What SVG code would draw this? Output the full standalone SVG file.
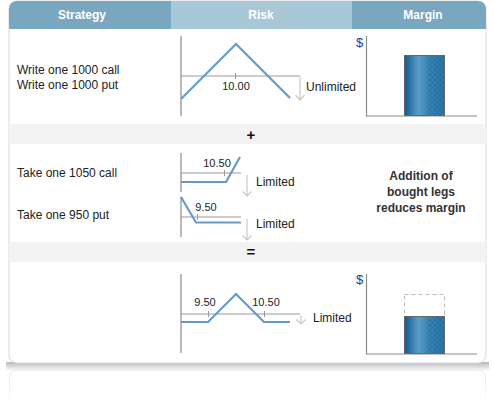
<svg xmlns="http://www.w3.org/2000/svg" width="494" height="403" viewBox="0 0 494 403">
<style>
.t{font-family:"Liberation Sans",Arial,sans-serif;font-size:12px;fill:#222}
.h{font-family:"Liberation Sans",Arial,sans-serif;font-size:12px;font-weight:bold;fill:#fff}
.b{font-family:"Liberation Sans",Arial,sans-serif;font-size:12px;font-weight:bold;fill:#333}
.op{font-family:"Liberation Sans",Arial,sans-serif;font-size:15px;font-weight:bold;fill:#111}
.s{font-family:"Liberation Sans",Arial,sans-serif;font-size:11px;fill:#222}
.d{font-family:"Liberation Sans",Arial,sans-serif;font-size:13px;fill:#1a3c9a}
.ax{stroke:#8a8a8a;stroke-width:1.2;fill:none}
.ref{stroke:#999;stroke-width:1;fill:none}
.pl{stroke:#6699cc;stroke-width:2.2;fill:none;stroke-linejoin:miter}
.ar{stroke:#c8c8c8;stroke-width:1.2;fill:none}
.bar{fill:url(#bg);stroke:#666;stroke-width:1}
</style>
<defs>
<linearGradient id="bg" x1="0" x2="1" y1="0" y2="0">
<stop offset="0" stop-color="#0e5c8c"/>
<stop offset="0.35" stop-color="#5b9dc8"/>
<stop offset="0.6" stop-color="#3884b6"/>
<stop offset="1" stop-color="#2a76a6"/>
</linearGradient>
<pattern id="hatch" width="5" height="5" patternUnits="userSpaceOnUse">
<path d="M0 0L5 5M5 0L0 5" stroke="#1b5a82" stroke-width="0.8" opacity="0.55"/>
</pattern>
<linearGradient id="hm" x1="0" x2="1" y1="0" y2="0">
<stop offset="0" stop-color="#fff" stop-opacity="0"/>
<stop offset="0.35" stop-color="#fff" stop-opacity="1"/>
<stop offset="1" stop-color="#fff" stop-opacity="1"/>
</linearGradient>
<mask id="m1" maskContentUnits="objectBoundingBox"><rect width="1" height="1" fill="url(#hm)"/></mask>
<linearGradient id="sh" x1="0" x2="0" y1="0" y2="1">
<stop offset="0" stop-color="#999" stop-opacity="0.7"/>
<stop offset="1" stop-color="#999" stop-opacity="0"/>
</linearGradient>
<linearGradient id="rf" x1="0" x2="0" y1="0" y2="1">
<stop offset="0" stop-color="#e4e4e4" stop-opacity="1"/>
<stop offset="1" stop-color="#e4e4e4" stop-opacity="0"/>
</linearGradient>
<clipPath id="pc"><rect x="9" y="1" width="477" height="362" rx="8"/></clipPath>
</defs>
<rect width="494" height="403" fill="#fff"/>
<rect x="6" y="362" width="483" height="9" fill="url(#sh)"/>
<path d="M9.5 402V378Q9.5 370 17 370H478Q485.5 370 485.5 378V402" fill="none" stroke="url(#rf)" stroke-width="1"/>
<g id="panel">
<rect x="9" y="1" width="477" height="362" rx="8" fill="#fff" stroke="#d8d8d8" stroke-width="1"/>
<g clip-path="url(#pc)">
<rect x="9" y="1" width="162" height="28" fill="#78a7bf"/>
<rect x="171" y="1" width="181" height="28" fill="#a9c8d7"/>
<rect x="352" y="1" width="135" height="28" fill="#78a7bf"/>
<rect x="9" y="124" width="477" height="20" fill="#f3f3f3"/>
<rect x="9" y="242" width="477" height="20" fill="#f3f3f3"/>
</g>
<text class="h" x="82" y="19" text-anchor="middle">Strategy</text>
<text class="h" x="261" y="19" text-anchor="middle">Risk</text>
<text class="h" x="423" y="19" text-anchor="middle">Margin</text>
<text class="op" x="251" y="140" text-anchor="middle">+</text>
<text class="op" x="251" y="257" text-anchor="middle">=</text>
</g>
<g id="row1">
<text class="t" x="17" y="74">Write one 1000 call</text>
<text class="t" x="17" y="89">Write one 1000 put</text>
<line class="ax" x1="181" y1="36" x2="181" y2="116"/>
<line class="ref" x1="181" y1="76" x2="300" y2="76"/>
<line class="ref" x1="235.5" y1="73" x2="235.5" y2="79"/>
<polyline class="pl" points="181,99 236,44 290,98"/>
<text class="s" x="236" y="90" text-anchor="middle">10.00</text>
<path class="ar" d="M300 77V100M295.5 95L300 100L304.5 95"/>
<text class="t" x="306" y="91">Unlimited</text>
<text class="d" x="356" y="47">$</text>
<line class="ax" x1="366.5" y1="36" x2="366.5" y2="116"/>
<line class="ax" x1="366" y1="116" x2="477" y2="116"/>
<rect class="bar" x="404.5" y="55.5" width="40" height="60"/>
<rect x="424" y="56" width="20" height="59" fill="url(#hatch)" mask="url(#m1)"/>
</g>
<g id="row2">
<text class="t" x="17" y="177">Take one 1050 call</text>
<text class="t" x="17" y="219">Take one 950 put</text>
<line class="ax" x1="181" y1="153" x2="181" y2="192"/>
<line class="ref" x1="181" y1="173" x2="241" y2="173"/>
<line class="ref" x1="224.5" y1="170" x2="224.5" y2="176"/>
<polyline class="pl" points="181,182 226,182 240,157"/>
<text class="s" x="217" y="167" text-anchor="middle">10.50</text>
<path class="ar" d="M247 175V196M242.5 191.5L247 196L251.5 191.5"/>
<text class="t" x="256" y="186">Limited</text>
<line class="ax" x1="181" y1="197" x2="181" y2="237"/>
<line class="ref" x1="181" y1="217" x2="241" y2="217"/>
<line class="ref" x1="197.5" y1="214" x2="197.5" y2="220"/>
<polyline class="pl" points="181,197 196,222.5 241,222.5"/>
<text class="s" x="206" y="211" text-anchor="middle">9.50</text>
<path class="ar" d="M247 219V240M242.5 235.5L247 240L251.5 235.5"/>
<text class="t" x="256" y="228">Limited</text>
<text class="b" x="421" y="180" text-anchor="middle">Addition of</text>
<text class="b" x="421" y="196" text-anchor="middle">bought legs</text>
<text class="b" x="421" y="212" text-anchor="middle">reduces margin</text>
</g>
<g id="row3">
<line class="ax" x1="181" y1="274" x2="181" y2="353"/>
<line class="ref" x1="181" y1="314" x2="300" y2="314"/>
<line class="ref" x1="208.5" y1="311" x2="208.5" y2="317"/>
<line class="ref" x1="264.5" y1="311" x2="264.5" y2="317"/>
<polyline class="pl" points="181,322 208,322 236,294 264,322 290,322"/>
<text class="s" x="205" y="306" text-anchor="middle">9.50</text>
<text class="s" x="266" y="306" text-anchor="middle">10.50</text>
<path class="ar" d="M301 315V324M296.5 319.5L301 324L305.5 319.5"/>
<text class="t" x="313" y="322">Limited</text>
<text class="d" x="356" y="284">$</text>
<line class="ax" x1="366.5" y1="274" x2="366.5" y2="354"/>
<line class="ax" x1="366" y1="354" x2="477" y2="354"/>
<rect x="404.5" y="294.5" width="40" height="22" fill="none" stroke="#bbb" stroke-width="1" stroke-dasharray="4,3"/>
<rect class="bar" x="404.5" y="316.5" width="40" height="37"/>
<rect x="424" y="317" width="20" height="36" fill="url(#hatch)" mask="url(#m1)"/>
</g>
</svg>
